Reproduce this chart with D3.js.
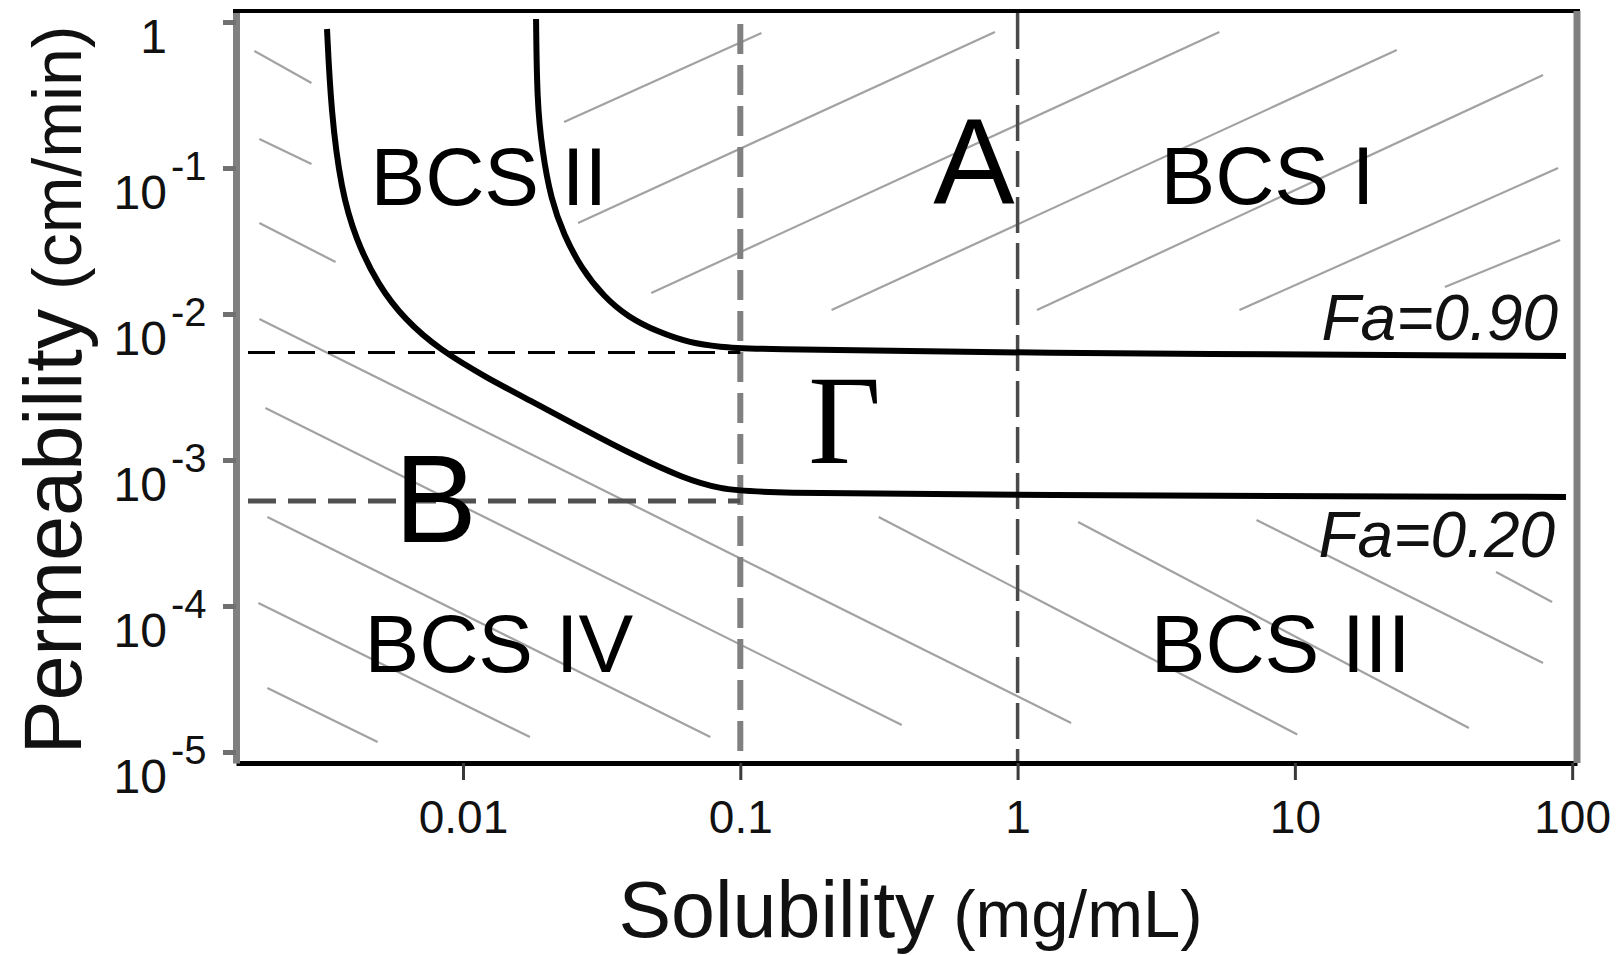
<!DOCTYPE html>
<html>
<head>
    <title>BCS absorption map</title>
    <meta charset="utf-8">
    <script src="https://d3js.org/d3.v7.min.js"></script>
    <style>
        body {
            margin: 0;
            background: #fff;
        }

        svg {
            display: block;
            font-family: "Liberation Sans", Arial, Helvetica, sans-serif;
        }

        .hatch line {
            stroke: #a2a2a2;
            stroke-width: 2.2;
        }

        .curve {
            fill: none;
            stroke: #000;
            stroke-width: 6;
        }
    </style>
</head>

<body>
    <svg id="chart" width="1621" height="955"></svg>
    <script type="text/javascript">
    // solubility axis (mg/mL)
    var xTicks = [0.01, 0.1, 1, 10, 100];
    var xTickLabels = ["0.01", "0.1", "1", "10", "100"];
    // permeability axis (cm/min), labelled as powers of ten
    var yTicks = [1, 1e-1, 1e-2, 1e-3, 1e-4, 1e-5];
    var yTickExponents = ["", "-1", "-2", "-3", "-4", "-5"];

    // iso-absorption curves, [solubility, permeability]
    var fa90 = [
        [0.01834, 1.049], [0.01849, 0.2877], [0.01927, 0.1329], [0.02077, 0.0604],
        [0.02313, 0.03477], [0.02664, 0.02066], [0.03226, 0.01308], [0.03936, 0.009541],
        [0.05049, 0.007531], [0.06585, 0.006331], [0.0859, 0.005942], [0.104, 0.005758],
        [0.8639, 0.005408], [95.0, 0.005159]
    ];
    var fa20 = [
        [0.003232, 0.8957], [0.003342, 0.2458], [0.003632, 0.07073], [0.004112, 0.03214],
        [0.004938, 0.0158], [0.006179, 0.0091], [0.008264, 0.00567], [0.01221, 0.003645],
        [0.01818, 0.002458], [0.02754, 0.001606], [0.04172, 0.001066], [0.06214, 0.000753],
        [0.08448, 0.000633], [0.1178, 0.000594], [0.8639, 0.000576], [95.0, 0.000558]
    ];

    // class boundaries
    var solubilityCuts = [0.1, 1];
    var permeabilityCuts = [0.00545, 0.000524];

    // hatch segments [[s1, p1], [s2, p2]]
    var hatchUp = [
        [[0.02314, 0.2066], [0.1192, 0.841]],
        [[0.0260, 0.04201], [0.8287, 0.8545]],
        [[0.04774, 0.01393], [5.343, 0.8545]],
        [[0.2134, 0.01066], [23.31, 0.6434]],
        [[1.175, 0.01066], [78.55, 0.4337]],
        [[6.312, 0.01066], [89.0, 0.1000]],
        [[34.75, 0.01532], [90.5, 0.03214]]
    ];
    var hatchDown = [
        [[0.001768, 0.6331], [0.002841, 0.3823]],
        [[0.001843, 0.1581], [0.002841, 0.1066]],
        [[0.001843, 0.04201], [0.00347, 0.02272]],
        [[0.001843, 0.009245], [1.56, 1.58e-5]],
        [[0.001938, 0.002272], [0.3822, 1.531e-5]],
        [[0.00197, 4.071e-4], [0.07795, 1.267e-5]],
        [[0.001828, 1.049e-4], [0.01743, 1.267e-5]],
        [[0.00197, 2.745e-5], [0.00492, 1.171e-5]],
        [[0.3155, 4.071e-4], [10.2, 1.32e-5]],
        [[1.653, 3.763e-4], [42.43, 1.461e-5]],
        [[7.271, 3.883e-4], [78.55, 4.071e-5]],
        [[53.13, 1.71e-4], [84.68, 1.066e-4]]
    ];

    // region names, [text, solubility, permeability]
    var regionLabels = [
        ["BCS II", 0.0124, 0.0558],
        ["A", 0.696, 0.0567],
        ["BCS I", 7.97, 0.0567],
        ["\u0393", 0.2378, 9.54e-4],
        ["B", 0.00797, 2.745e-4],
        ["BCS IV", 0.01347, 3.533e-5],
        ["BCS III", 8.88, 3.533e-5]
    ];
    var faLabels = [["Fa=0.90", 89.0, 0.00664], ["Fa=0.20", 86.8, 0.000217]];

    var svg = d3.select("#chart");

    var x = d3.scaleLog().domain([0.001518, 104.1]).range([236, 1577]);
    var y = d3.scaleLog().domain([1.19, 8.41e-6]).range([11, 763]);

    // hatching
    function hatch(segs) {
        svg.append("g").attr("class", "hatch")
            .selectAll("line")
            .data(segs)
            .enter().append("line")
            .attr("x1", function (d) { return x(d[0][0]); })
            .attr("y1", function (d) { return y(d[0][1]); })
            .attr("x2", function (d) { return x(d[1][0]); })
            .attr("y2", function (d) { return y(d[1][1]); });
    }
    hatch(hatchUp);
    hatch(hatchDown);

    // vertical solubility cut-offs
    var vStyles = [
        { stroke: "#808080", width: 6, dash: "30,11", top: 1 },
        { stroke: "#4a4a4a", width: 3.5, dash: "36,10", top: y.domain()[0] }
    ];
    svg.append("g").selectAll("line")
        .data(solubilityCuts)
        .enter().append("line")
        .attr("x1", function (d) { return x(d); })
        .attr("x2", function (d) { return x(d); })
        .attr("y1", function (d, i) { return y(vStyles[i].top) + 2; })
        .attr("y2", y(y.domain()[1]))
        .attr("stroke", function (d, i) { return vStyles[i].stroke; })
        .attr("stroke-width", function (d, i) { return vStyles[i].width; })
        .attr("stroke-dasharray", function (d, i) { return vStyles[i].dash; });

    // horizontal permeability cut-offs, up to S = 0.1
    var hStyles = [
        { stroke: "#000", width: 3, dash: "27,13" },
        { stroke: "#505050", width: 5, dash: "28,12" }
    ];
    svg.append("g").selectAll("line")
        .data(permeabilityCuts)
        .enter().append("line")
        .attr("x1", x(x.domain()[0]) + 12)
        .attr("x2", x(solubilityCuts[0]))
        .attr("y1", function (d) { return y(d); })
        .attr("y2", function (d) { return y(d); })
        .attr("stroke", function (d, i) { return hStyles[i].stroke; })
        .attr("stroke-width", function (d, i) { return hStyles[i].width; })
        .attr("stroke-dasharray", function (d, i) { return hStyles[i].dash; });

    // Fa curves
    var line = d3.line()
        .x(function (d) { return x(d[0]); })
        .y(function (d) { return y(d[1]); })
        .curve(d3.curveBasis);
    svg.append("path").attr("class", "curve").attr("d", line(fa90));
    svg.append("path").attr("class", "curve").attr("d", line(fa20));

    // axes
    var xAxis = d3.axisBottom(x)
        .tickValues(xTicks)
        .tickFormat(function (d, i) { return xTickLabels[i]; })
        .tickSize(17)
        .tickSizeOuter(0)
        .tickPadding(20);
    var gx = svg.append("g").attr("transform", "translate(0," + y.range()[1] + ")").call(xAxis);
    gx.select(".domain").attr("stroke", "#000").attr("stroke-width", 5);
    gx.selectAll(".tick line").attr("stroke", "#3a3a3a").attr("stroke-width", 3);
    gx.selectAll(".tick text")
        .attr("font-size", 46)
        .attr("font-family", "Liberation Sans, Arial, sans-serif")
        .attr("fill", "#111");

    var yAxis = d3.axisLeft(y)
        .tickValues(yTicks)
        .tickFormat("")
        .tickSize(13)
        .tickSizeOuter(0);
    var gy = svg.append("g").attr("transform", "translate(" + x.range()[0] + ",0)").call(yAxis);
    gy.select(".domain").attr("stroke", "#808080").attr("stroke-width", 7);
    gy.selectAll(".tick line").attr("stroke", "#707070").attr("stroke-width", 5);

    // top and right frame
    svg.append("line")
        .attr("x1", x.range()[0] - 3).attr("x2", x.range()[1] + 3)
        .attr("y1", y.range()[0]).attr("y2", y.range()[0])
        .attr("stroke", "#000").attr("stroke-width", 4);
    svg.append("line")
        .attr("x1", x.range()[1]).attr("x2", x.range()[1])
        .attr("y1", y.range()[0]).attr("y2", y.range()[1])
        .attr("stroke", "#808080").attr("stroke-width", 7);

    // y tick labels, 10 with a raised exponent
    var gyl = svg.append("g").attr("fill", "#111");
    yTicks.forEach(function (t, i) {
        var yy = y(t);
        var ex = yTickExponents[i];
        gyl.append("text")
            .attr("x", 167)
            .attr("y", yy + (ex ? 41 : 31))
            .attr("text-anchor", "end")
            .attr("font-size", 48)
            .text(ex ? "10" : "1");
        if (ex) {
            gyl.append("text")
                .attr("x", 171)
                .attr("y", yy + 12)
                .attr("font-size", 40)
                .text(ex);
        }
    });

    // axis titles
    var xt = svg.append("text")
        .attr("x", (x.range()[0] + x.range()[1]) / 2 + 4)
        .attr("y", 937)
        .attr("text-anchor", "middle")
        .attr("fill", "#111");
    xt.append("tspan").attr("font-size", 79).text("Solubility");
    xt.append("tspan").attr("font-size", 67).text(" (mg/mL)");

    var yt = svg.append("text")
        .attr("transform", "translate(81,390) rotate(-90)")
        .attr("text-anchor", "middle")
        .attr("fill", "#111");
    yt.append("tspan").attr("font-size", 81).text("Permeability");
    yt.append("tspan").attr("font-size", 68).text(" (cm/min)");

    // region labels
    var bigLetters = { "A": 122, "B": 124, "\u0393": 126 };
    svg.append("g").selectAll("text")
        .data(regionLabels)
        .enter().append("text")
        .attr("x", function (d) { return x(d[1]); })
        .attr("y", function (d) { return y(d[2]); })
        .attr("text-anchor", "middle")
        .attr("font-size", function (d) { return bigLetters[d[0]] || 82; })
        .attr("font-family", function (d) {
            return d[0] === "\u0393" ? "Liberation Serif, Times New Roman, serif" : null;
        })
        .attr("fill", "#000")
        .text(function (d) { return d[0]; });

    svg.append("g").selectAll("text")
        .data(faLabels)
        .enter().append("text")
        .attr("x", function (d) { return x(d[1]); })
        .attr("y", function (d) { return y(d[2]); })
        .attr("text-anchor", "end")
        .attr("font-size", 64)
        .attr("font-style", "italic")
        .attr("fill", "#111")
        .text(function (d) { return d[0]; });
    </script>
</body>
</html>
